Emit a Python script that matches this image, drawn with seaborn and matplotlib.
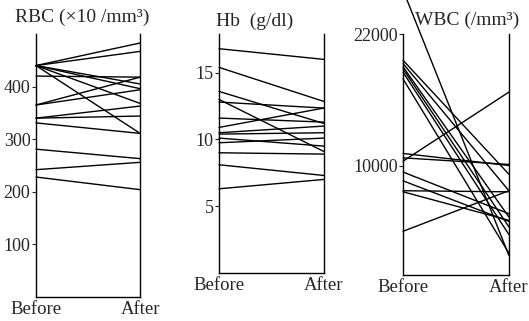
import matplotlib
matplotlib.use("Agg")
import matplotlib.pyplot as plt
import seaborn as sns
import pandas as pd

# RBC (x10^4/mm3)
rbc_before = [440, 440, 440, 440, 440, 440, 420, 365, 365, 340, 340, 331, 281, 242, 228]
rbc_after  = [483, 467, 405, 396, 368, 311, 418, 418, 394, 363, 344, 311, 263, 256, 204]
# Hb (g/dl)
hb_before = [16.8, 15.4, 13.6, 13.0, 12.8, 11.6, 10.9, 10.5, 10.4, 10.1, 9.75, 9.0, 8.1, 6.3]
hb_after  = [16.0, 12.85, 11.2, 9.1, 12.35, 11.3, 12.35, 11.0, 10.5, 9.5, 10.1, 8.9, 7.3, 7.0]
# WBC (/mm3)
wbc_before = [26000, 19600, 19300, 19000, 18800, 18500, 17900, 11100, 10700, 10400, 9400, 8600, 7700, 7600, 4000]
wbc_after  = [1800, 9200, 7700, 5300, 4400, 3700, 2000, 10000, 10100, 16700, 5600, 4900, 7600, 5000, 7700]

x_labels = ["Before", "After"]
titles = ["RBC (×10 /mm³)", "Hb  (g/dl)", "WBC (/mm³)"]

sns.set_theme(style="white")
plt.rcParams["font.family"] = ["Liberation Serif", "DejaVu Serif"]

fig = plt.figure(figsize=(5.29, 3.21), dpi=100)

def long_df(before, after):
    rows = []
    for i, (b, a) in enumerate(zip(before, after)):
        rows.append({"id": i, "t": 0, "v": b})
        rows.append({"id": i, "t": 1, "v": a})
    return pd.DataFrame(rows)

specs = [
    (rbc_before, rbc_after, [0.068, 0.075, 0.197, 0.819], (0, 500), [100, 200, 300, 400]),
    (hb_before, hb_after, [0.414, 0.150, 0.198, 0.744], (0, 17.9), [5, 10, 15]),
    (wbc_before, wbc_after, [0.762, 0.143, 0.200, 0.751], (0, 22000), [10000, 22000]),
]

for k, (b, a, pos, ylim, yt) in enumerate(specs):
    ax = fig.add_axes(pos)
    df = long_df(b, a)
    sns.lineplot(data=df, x="t", y="v", units="id", estimator=None,
                 color="black", linewidth=1.0, ax=ax, legend=False)
    for line in ax.get_lines():
        line.set_clip_on(False)
    ax.set_xlim(0, 1)
    ax.set_ylim(*ylim)
    ax.set_yticks(yt)
    ax.set_yticklabels([str(t) for t in yt], fontsize=13)
    ax.set_xticks([0, 1])
    ax.set_xticklabels(x_labels, fontsize=13.5)
    ax.set_xlabel("")
    ax.set_ylabel("")
    ax.tick_params(axis="y", length=3, width=0.8, pad=1, left=True, direction="out")
    ax.tick_params(axis="x", length=0, pad=3)
    for s in ["left", "right", "bottom"]:
        ax.spines[s].set_visible(True)
        ax.spines[s].set_color("black")
        ax.spines[s].set_linewidth(1.0)
    ax.spines["top"].set_visible(False)
    ax.set_facecolor("none")

fig.text(0.155, 0.945, titles[0], ha="center", va="center", fontsize=14)
fig.text(0.482, 0.935, titles[1], ha="center", va="center", fontsize=14)
fig.text(0.883, 0.938, titles[2], ha="center", va="center", fontsize=14)

fig.savefig("out.png", dpi=100)
